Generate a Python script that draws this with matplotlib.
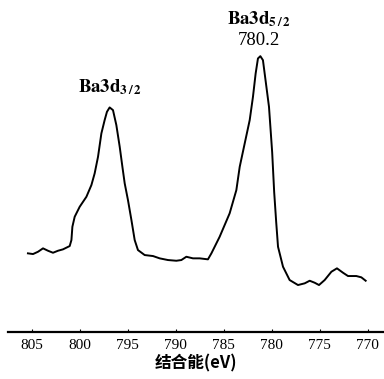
import matplotlib
matplotlib.use('Agg')
import matplotlib.pyplot as plt

plt.rcParams['mathtext.fontset'] = 'stix'

# Ba 3d XPS spectrum (arbitrary intensity)
energy = [805.39, 804.86, 804.34, 803.82, 803.30, 802.78, 802.26, 801.74, 801.04, 800.86,
          800.76, 800.52, 800.00, 799.30, 798.78, 798.44, 798.09, 797.74, 797.40, 797.16,
          796.88, 796.53, 796.18, 795.83, 795.55, 795.31, 794.97, 794.61, 794.27, 793.93,
          793.23, 792.36, 791.67, 790.80, 789.93, 789.41, 788.89, 788.20, 787.50, 786.64,
          786.28, 785.42, 784.38, 783.68, 783.33, 782.81, 782.29, 781.95, 781.67, 781.43,
          781.18, 780.91, 780.55, 780.28, 779.95, 779.74, 779.53, 779.34, 778.82, 778.13,
          777.26, 776.56, 776.04, 775.52, 775.07, 774.48, 773.78, 773.20, 772.57, 772.05,
          771.18, 770.66, 770.21]
intensity = [78.7, 78, 80.3, 83.7, 81.3, 79.3, 81.3, 82.7, 86, 92,
             105.3, 115.3, 125.3, 135.3, 147, 158.7, 175.3, 198.7, 212, 220.3,
             224.7, 222, 207, 185.3, 165.3, 148.7, 132, 112, 92, 82,
             77, 76, 73.7, 72, 71.3, 72, 75.3, 73.7, 73.7, 72.7,
             78.7, 95.3, 118.7, 142, 165.3, 188.7, 212, 235.3, 258.7, 273.7,
             276, 272, 245.3, 225.3, 180, 140, 110, 85.3, 65.3, 52,
             47, 48.7, 51.3, 49.3, 47, 52, 60.3, 63.7, 59.3, 56,
             56, 54.7, 51.3]
ticks = [805, 800, 795, 790, 785, 780, 775, 770]

fig = plt.figure(figsize=(3.84, 3.79), dpi=100)
ax = fig.add_axes([0.02, 0.124, 0.98, 0.77])
ax.plot(energy, intensity, color='black', lw=1.4, solid_joinstyle='round')
ax.set_xlim(807.5, 768.3)
ax.set_ylim(0, 292)

for s in ['top', 'left', 'right']:
    ax.spines[s].set_visible(False)
ax.spines['bottom'].set_linewidth(1.6)
ax.set_yticks([])
ax.set_xticks(ticks)
ax.set_xticklabels([str(t) for t in ticks], family='Liberation Serif', fontsize=11)
ax.tick_params(axis='x', direction='in', length=2, width=0.8, pad=5)
ax.set_xlabel('结合能(eV)', family=['Noto Sans CJK SC', 'DejaVu Sans'],
              fontsize=12, fontweight='bold', labelpad=2)

ax.text(796.9, 245, r'$\mathbf{Ba3d}_{\mathbf{3\,/\,2}}$', ha='center', va='center', fontsize=13.5)
ax.text(781.3, 313, r'$\mathbf{Ba3d}_{\mathbf{5\,/\,2}}$', ha='center', va='center',
        fontsize=13.5, clip_on=False)
ax.text(781.3, 292, '780.2', ha='center', va='center', fontsize=13.5,
        family='Liberation Serif', clip_on=False)

fig.savefig('out.png', dpi=100)
